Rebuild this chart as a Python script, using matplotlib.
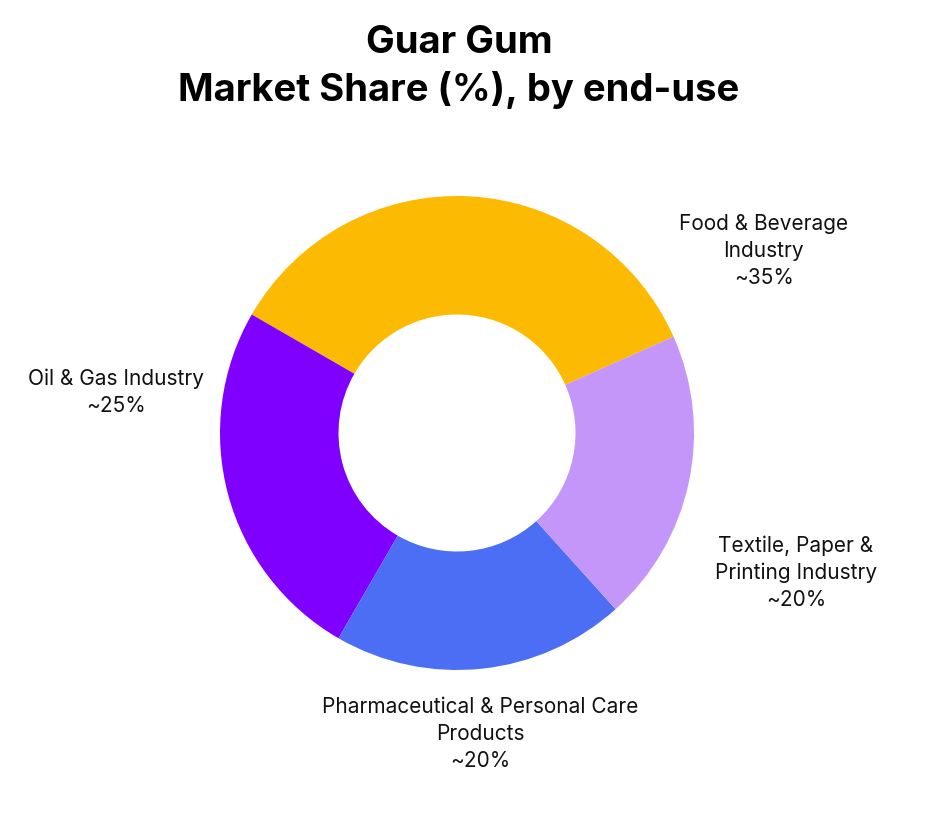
import matplotlib
matplotlib.use('Agg')
import matplotlib.pyplot as plt

plt.rcParams['font.family'] = ['Inter', 'DejaVu Sans']

# data
segments = ["Food & Beverage\nIndustry", "Oil & Gas Industry",
            "Pharmaceutical & Personal Care\nProducts", "Textile, Paper &\nPrinting Industry"]
shares = [35, 25, 20, 20]
share_labels = ["~35%", "~25%", "~20%", "~20%"]
colors = ["#FDBA03", "#7F00FF", "#4C6EF5", "#C596FA"]

# label positions in axes units (radius = 1)
label_pos = [(1.295, 0.772), (-1.439, 0.177), (0.097, -1.266), (1.430, -0.586)]

W, H = 937, 820
fig = plt.figure(figsize=(W / 100, H / 100), dpi=100)
cx, cy, r = 457, 434, 237
ax = fig.add_axes([(cx - r) / W, (H - cy - r) / H, 2 * r / W, 2 * r / H])

ax.pie(shares, colors=colors, startangle=24, counterclock=True,
       wedgeprops=dict(width=0.5, linewidth=0))
ax.set_xlim(-1, 1)
ax.set_ylim(-1, 1)
ax.set_aspect('equal')
ax.axis('off')

for name, pct, (x, y) in zip(segments, share_labels, label_pos):
    ax.text(x, y, f"{name}\n{pct}", ha='center', va='center', fontsize=15,
            color='#111111', linespacing=1.42)

title_x = 459 / W
fig.text(title_x, 1 - 43 / H, "Guar Gum", ha='center', va='center',
         fontsize=27.5, fontweight='bold', color='black')
fig.text(title_x, 1 - 90 / H, "Market Share (%), by end-use", ha='center', va='center',
         fontsize=27.5, fontweight='bold', color='black')

fig.savefig("out.png", dpi=100, facecolor='white')
